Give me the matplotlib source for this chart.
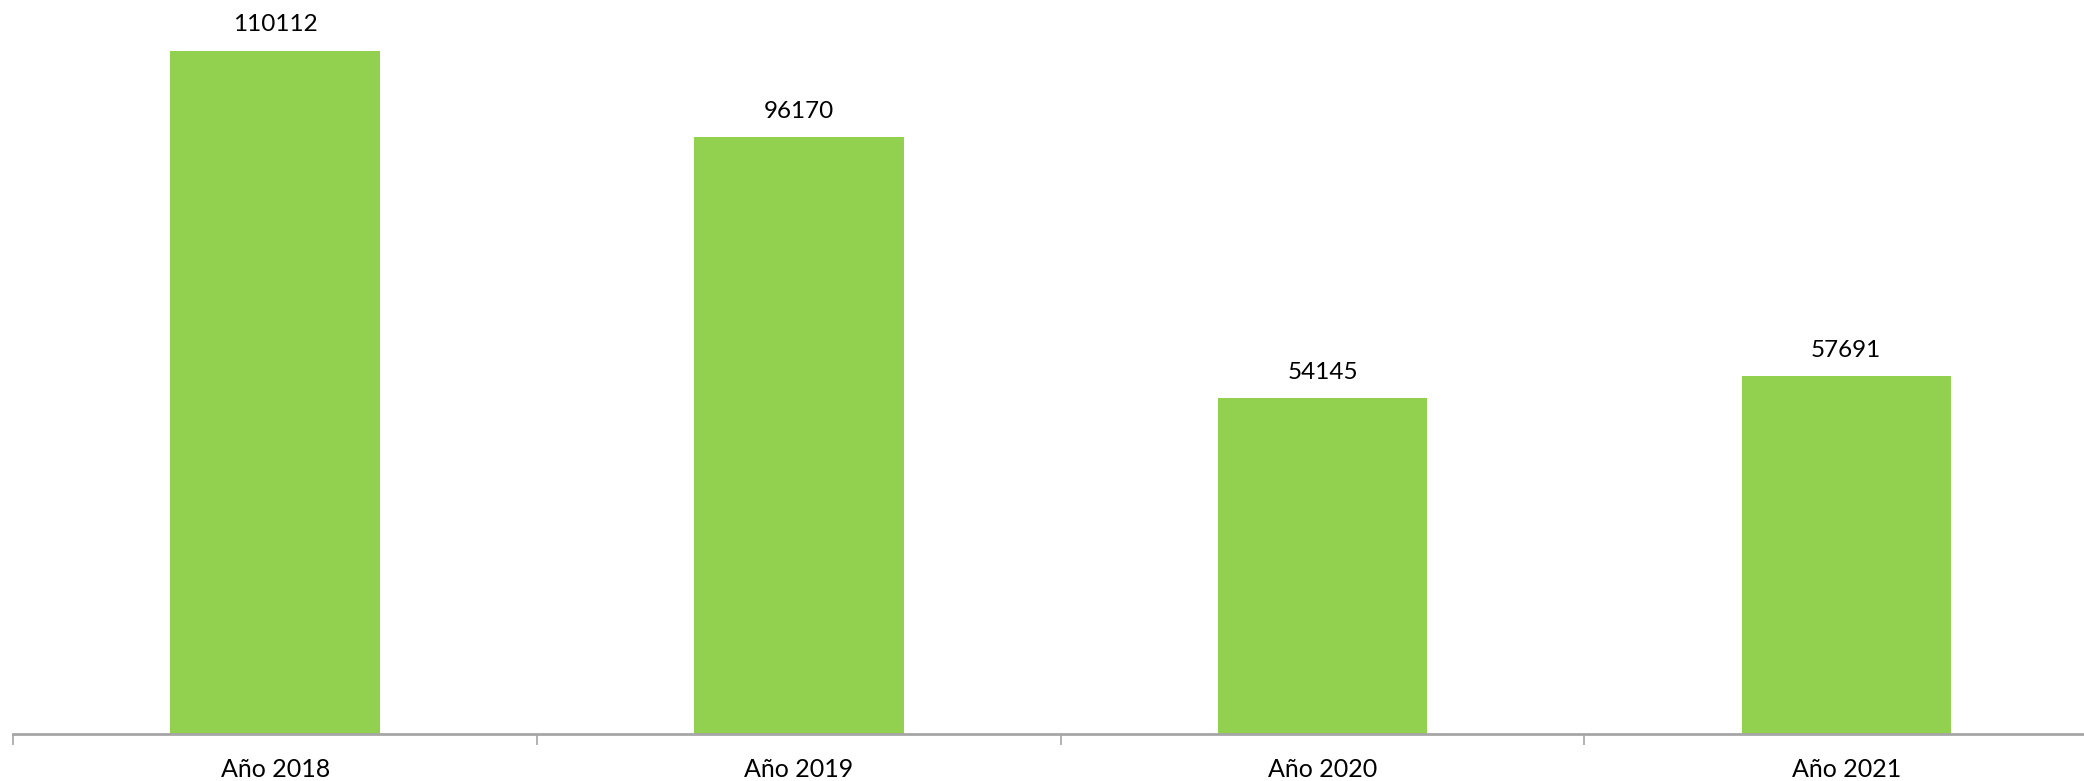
import numpy as np
import matplotlib.pyplot as plt

# Datos
categorias = ['Año 2018', 'Año 2019', 'Año 2020', 'Año 2021']
valores = [110112, 96170, 54145, 57691]

plt.rcParams['font.family'] = ['Lato', 'DejaVu Sans']

fig = plt.figure(figsize=(20.84, 7.81), dpi=100)
# eje que llega hasta el borde superior y se sale un poco por la derecha
ax = fig.add_axes([13.3 / 2084, 47 / 781, 4 * 523.7 / 2084, 734 / 781])

x = np.arange(len(categorias))
barras = ax.bar(x, valores, width=0.40, color='#92D050', zorder=2)

for b, v in zip(barras, valores):
    ax.annotate(str(v), (b.get_x() + b.get_width() / 2, v), xytext=(0, 11),
                textcoords='offset points', ha='center', va='bottom', fontsize=17.5)

ax.set_xlim(-0.5, len(categorias) - 0.5)
ax.set_ylim(0, 118250)

# marcas entre categorias, etiquetas en el centro
ax.set_xticks(np.arange(len(categorias) + 1) - 0.5)
ax.set_xticklabels([])
ax.set_xticks(x, minor=True)
ax.set_xticklabels(categorias, minor=True, fontsize=18)
ax.tick_params(axis='x', which='major', length=8, width=1.2, color='#A6A6A6')
ax.tick_params(axis='x', which='minor', length=0, pad=17)
ax.set_yticks([])

for s in ['top', 'right', 'left']:
    ax.spines[s].set_visible(False)
ax.spines['bottom'].set_color('#A6A6A6')
ax.spines['bottom'].set_linewidth(2)

fig.savefig('out.png', dpi=100)
